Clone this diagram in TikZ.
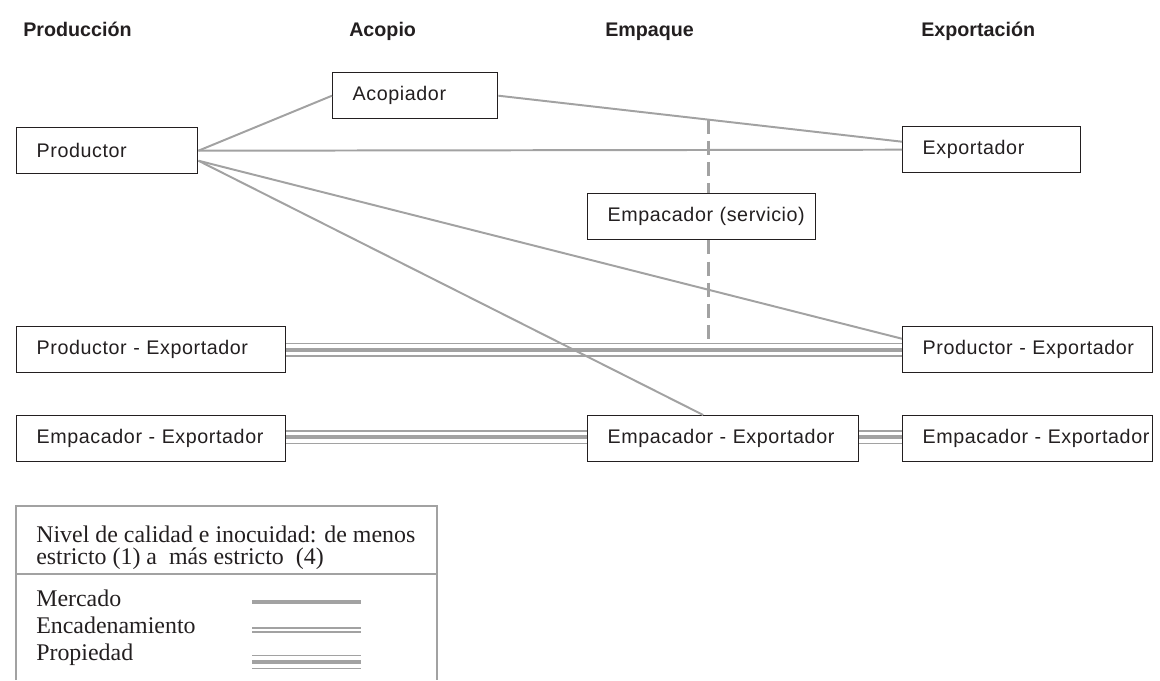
\documentclass[tikz,border=0pt]{standalone}
\usepackage{fontspec}
\setmainfont{Liberation Serif}
\newfontfamily\boxfont[LetterSpace=3]{Liberation Sans}
\newfontfamily\headfont{Liberation Sans}
\usetikzlibrary{calc}
\newcommand{\px}{0.025cm}

\begin{document}
\begin{tikzpicture}[x=0.025cm,y=-0.025cm,
  box/.style={draw=chainDark,line width=1pt,fill=white,anchor=north west,align=left,
    inner xsep=0pt,inner ysep=0pt,minimum height=46*\px,text=chainDark,
    font=\boxfont\fontsize{14}{16}\selectfont,execute at begin node=\hspace*{0.5cm}},
  head/.style={anchor=base west,inner sep=0pt,text=chainDark,
    font=\headfont\bfseries\fontsize{14}{16}\selectfont},
  legtext/.style={anchor=base west,inner sep=0pt,text=chainDark,
    font=\fontsize{17}{20}\selectfont},
  mercado/.style={draw=chainGray,line width=1.4pt},
  encadenamiento/.style={draw=chainGray,line width=1.3pt,double=white,double distance=2pt},
  propiedad/.style={draw=chainGray,line width=10pt,
    postaction={draw=white,line width=8pt},
    postaction={draw=chainGray,line width=3pt}}]
\definecolor{chainDark}{HTML}{231F20}
\definecolor{chainGray}{HTML}{A2A2A2}
\useasboundingbox (0,0) rectangle (1160,680);
\foreach \x/\lab/\nm in {23/Producción/hprod,349/Acopio/hacop,605/Empaque/hemp,921/Exportación/hexp}
  \node[head] (\nm) at (\x,36) {\lab};
\node[box,text width=181*\px] (prod) at (16,127) {Productor};
\node[box,text width=165*\px] (acop) at (332,72) {Acopiador};
\node[box,text width=178*\px] (expo) at (902,126) {Exportador};
\node[box,text width=228*\px] (serv) at (587,193) {Empacador (servicio)};
\node[box,text width=269*\px] (pel) at (16,326) {Productor - Exportador};
\node[box,text width=250*\px] (per) at (902,326) {Productor - Exportador};
\node[box,text width=269*\px] (eel) at (16,415) {Empacador - Exportador};
\node[box,text width=271*\px] (eem) at (587,415) {Empacador - Exportador};
\node[box,text width=250*\px] (eer) at (902,415) {Empacador - Exportador};
\draw[propiedad] (pel.east) -- (per.west);
\draw[propiedad] ([yshift=1.5*\px]eel.east) -- ([yshift=1.5*\px]eem.west);
\draw[propiedad] ([yshift=1.5*\px]eem.east) -- ([yshift=1.5*\px]eer.west);
\coordinate (prodlo) at ([yshift=-10*\px]prod.east);
\draw[mercado] (prod.east) -- (acop.west);
\draw[mercado] (prod.east) -- (expo.west);
\draw[mercado] (acop.east) -- coordinate[pos=0.521] (dtop) ([yshift=8*\px]expo.west);
\draw[mercado] (prodlo) -- ([yshift=11*\px]per.west);
\draw[mercado] (prodlo) -- ([xshift=-20*\px]eem.north);
\coordinate (dbot) at ($(dtop |- pel.east)+(0,-6.5)$);
\draw[chainGray,line width=2.2pt,dash pattern=on 10pt off 5pt] (dtop) -- (dtop |- serv.north);
\draw[chainGray,line width=2.2pt,dash pattern=on 10pt off 5pt] (dtop |- serv.south) -- (dbot);
\draw[chainGray,line width=1pt] (16,680) -- (16,506) -- (437,506) -- (437,680);
\draw[chainGray,line width=1pt] (16,574) -- (437,574);
\node[legtext] (niv1) at (36,542) {Nivel de calidad e inocuidad: de menos};
\node[legtext] (niv2) at (36,564) {estricto (1) a \ más estricto \ (4)};
\node[legtext] (mer) at (36,606) {Mercado};
\node[legtext] (enc) at (36,633) {Encadenamiento};
\node[legtext] (pro) at (36,660) {Propiedad};
\draw[mercado,line width=2.2pt] (252,602) -- (361,602);
\draw[encadenamiento] (252,630) -- (361,630);
\draw[propiedad] (252,662) -- (361,662);
\end{tikzpicture}
\end{document}
